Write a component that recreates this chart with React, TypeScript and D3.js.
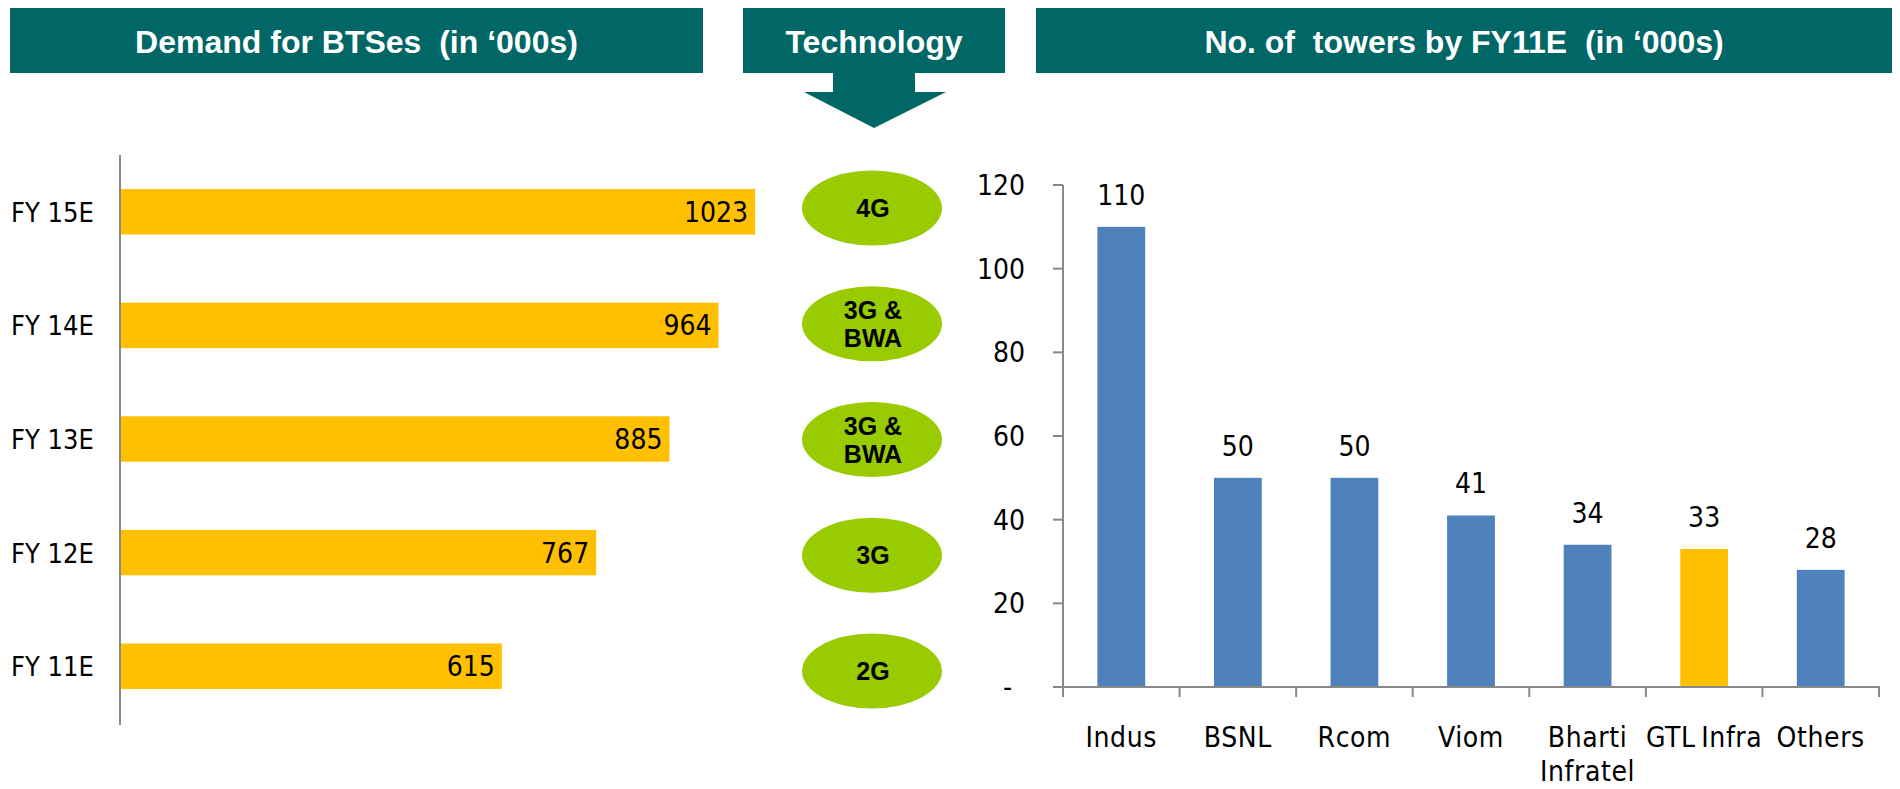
import React, { useEffect } from 'react';
import * as d3 from 'd3';

// ---------- data ----------
const demandYears = ['FY 15E', 'FY 14E', 'FY 13E', 'FY 12E', 'FY 11E'];
const demandValues = [1023, 964, 885, 767, 615];
const technologyLines = [['4G'], ['3G &', 'BWA'], ['3G &', 'BWA'], ['3G'], ['2G']];

const towerCompanies = ['Indus', 'BSNL', 'Rcom', 'Viom', 'Bharti Infratel', 'GTL Infra', 'Others'];
const towerLabelLines = [['Indus'], ['BSNL'], ['Rcom'], ['Viom'], ['Bharti', 'Infratel'], ['GTL\u2009Infra'], ['Others']];
const towerValues = [110, 50, 50, 41, 34, 33, 28];
const highlightedCompany = 'GTL Infra';
const towerTicks = [0, 20, 40, 60, 80, 100, 120];
const towerTickLabels = ['-', '20', '40', '60', '80', '100', '120'];

const headerTitles = ['Demand for BTSes  (in \u2018000s)', 'Technology', 'No. of  towers by FY11E  (in \u2018000s)'];

// ---------- style ----------
const TEAL = '#006666';
const YELLOW = '#FFC000';
const BLUE = '#4F81BD';
const GREEN = '#99CC00';
const AXIS = '#888888';
const NARROW = "'Liberation Sans Narrow', 'DejaVu Sans Condensed', 'Arial Narrow', sans-serif";
const SANS = "'Liberation Sans', Arial, sans-serif";

export default function App() {
  useEffect(() => {
    document.body.style.margin = '0';
    document.body.style.overflow = 'hidden';
  }, []);

  const W = 1900;
  const H = 789;

  // left chart scales
  const yDemand = d3.scaleBand<string>().domain(demandYears).range([155, 723]).paddingInner(0.6).paddingOuter(0.3);
  const xDemand = d3.scaleLinear().domain([0, 1200]).range([120, 865]);
  const yTech = d3.scalePoint<string>().domain(demandYears).range([208, 671]);

  // right chart scales
  const xTower = d3.scaleBand<string>().domain(towerCompanies).range([1063, 1879]).paddingInner(0.59).paddingOuter(0.295);
  const yTower = d3.scaleLinear().domain([0, 120]).range([687, 185]);
  const catBounds = d3.range(towerCompanies.length + 1).map((i) => 1063 + i * xTower.step());

  // headers
  const headers = [
    { x0: 10, x1: 703 },
    { x0: 743, x1: 1005 },
    { x0: 1036, x1: 1892 },
  ];
  const arrowCx = (headers[1].x0 + headers[1].x1) / 2;
  const arrowPath = d3.path();
  arrowPath.moveTo(arrowCx - 41, 73);
  arrowPath.lineTo(arrowCx + 41, 73);
  arrowPath.lineTo(arrowCx + 41, 92);
  arrowPath.lineTo(arrowCx + 72, 92);
  arrowPath.lineTo(arrowCx, 128);
  arrowPath.lineTo(arrowCx - 70, 92);
  arrowPath.lineTo(arrowCx - 41, 92);
  arrowPath.closePath();

  return (
    <svg width={W} height={H} style={{ position: 'absolute', left: 0, top: 0, background: '#fff' }}>
      {/* headers */}
      {headers.map((h, i) => (
        <g key={i}>
          <rect x={h.x0} y={8} width={h.x1 - h.x0} height={65} fill={TEAL} />
          <text
            x={(h.x0 + h.x1) / 2}
            y={53}
            textAnchor="middle"
            fill="#fff"
            fontFamily={SANS}
            fontWeight="bold"
            fontSize={32}
            style={{ whiteSpace: 'pre' }}
          >
            {headerTitles[i]}
          </text>
        </g>
      ))}
      <path d={arrowPath.toString()} fill={TEAL} />

      {/* left chart: demand bars */}
      <line x1={120} x2={120} y1={155} y2={725} stroke={AXIS} strokeWidth={2} />
      {demandYears.map((yr, i) => {
        const y = yDemand(yr)!;
        const bw = yDemand.bandwidth();
        return (
          <g key={yr}>
            <rect x={xDemand(0) + 1} y={y} width={xDemand(demandValues[i]) - xDemand(0) - 1} height={bw} fill={YELLOW} />
            <text x={11} y={y + bw / 2 + 10} fontFamily={NARROW} fontSize={27} fill="#000">
              {yr}
            </text>
            <text
              x={xDemand(demandValues[i]) - 7}
              y={y + bw / 2 + 10}
              textAnchor="end"
              fontFamily={NARROW}
              fontSize={28}
              fill="#000"
            >
              {demandValues[i]}
            </text>
          </g>
        );
      })}

      {/* technology ellipses */}
      {demandYears.map((yr, i) => {
        const cy = yTech(yr)!;
        const lines = technologyLines[i];
        return (
          <g key={'t' + yr}>
            <ellipse cx={872} cy={cy} rx={70} ry={37.5} fill={GREEN} />
            {lines.map((ln, j) => (
              <text
                key={j}
                x={873}
                y={cy + 9 + (j - (lines.length - 1) / 2) * 28}
                textAnchor="middle"
                fontFamily={SANS}
                fontWeight="bold"
                fontSize={25}
                fill="#000"
              >
                {ln}
              </text>
            ))}
          </g>
        );
      })}

      {/* right chart: towers */}
      {towerCompanies.map((c, i) => (
        <rect
          key={c}
          x={xTower(c)!}
          y={yTower(towerValues[i])}
          width={xTower.bandwidth()}
          height={yTower(0) - yTower(towerValues[i])}
          fill={c === highlightedCompany ? YELLOW : BLUE}
        />
      ))}
      {/* y axis */}
      <line x1={1063} x2={1063} y1={185} y2={687} stroke={AXIS} strokeWidth={2} />
      {towerTicks.map((t, i) => (
        <g key={'yt' + t}>
          <line x1={1053} x2={1063} y1={yTower(t)} y2={yTower(t)} stroke={AXIS} strokeWidth={2} />
          <text
            x={t === 0 ? 1012 : 1025}
            y={yTower(t) + 10}
            textAnchor="end"
            fontFamily={NARROW}
            fontSize={28}
            fill="#000"
          >
            {towerTickLabels[i]}
          </text>
        </g>
      ))}
      {/* x axis */}
      <line x1={1053} x2={1880} y1={687} y2={687} stroke={AXIS} strokeWidth={2} />
      {catBounds.map((bx, i) => (
        <line key={'xt' + i} x1={bx} x2={bx} y1={687} y2={697} stroke={AXIS} strokeWidth={2} />
      ))}
      {towerCompanies.map((c, i) => {
        const cx = xTower(c)! + xTower.bandwidth() / 2;
        return (
          <g key={'lab' + c}>
            <text
              x={cx}
              y={yTower(towerValues[i]) - 22}
              textAnchor="middle"
              fontFamily={NARROW}
              fontSize={28}
              fill="#000"
            >
              {towerValues[i]}
            </text>
            {towerLabelLines[i].map((ln, j) => (
              <text
                key={j}
                x={cx}
                y={747 + j * 34}
                textAnchor="middle"
                fontFamily={NARROW}
                fontSize={28}
                fill="#000"
                letterSpacing={0.6}
              >
                {ln}
              </text>
            ))}
          </g>
        );
      })}
    </svg>
  );
}
